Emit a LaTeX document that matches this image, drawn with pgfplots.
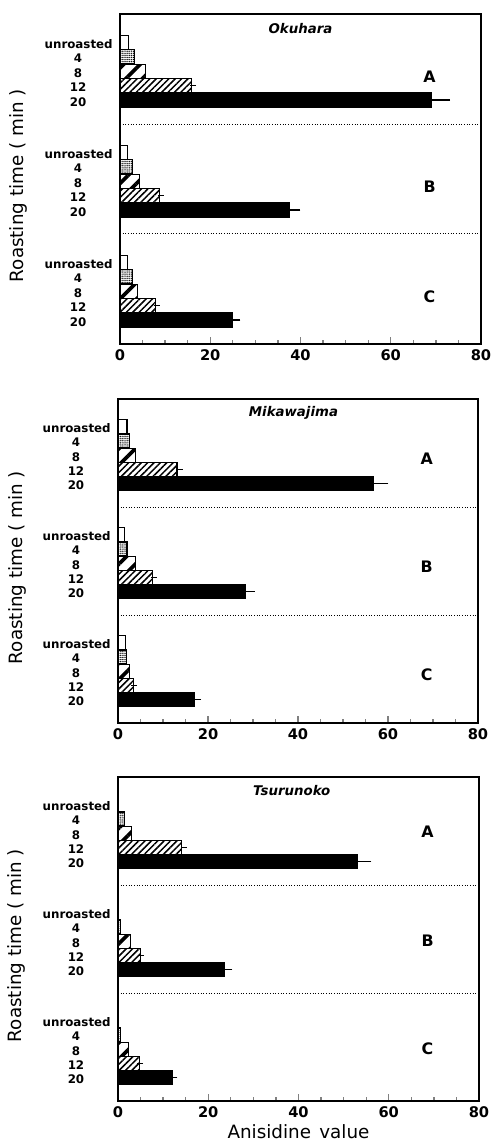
\documentclass[border=0pt]{standalone}
\usepackage{fontspec}
\setmainfont{DejaVu Sans}
\usepackage{pgfplots}
\pgfplotsset{compat=1.18}
\usetikzlibrary{patterns,patterns.meta}

% y positions (axis units, top-down): 3 groups x 5 bars
\pgfplotsset{
  panel/.style={
    anchor=north west, scale only axis, width=216.6pt,
    xmin=0, xmax=80, ymin=0, ymax=326, y dir=reverse,
    xtick={0,20,40,60,80}, minor x tick num=3, xtick pos=bottom,
    tick align=inside, major tick length=4pt, minor tick length=2.4pt,
    ytick={28,42.25,56.5,70.75,85,136.67,150.92,165.17,179.42,193.67,245.33,259.58,273.83,288.08,302.33},
    yticklabels={unroasted,4,8,12,20,unroasted,4,8,12,20,unroasted,4,8,12,20},
    ytick style={draw=none},
    yticklabel style={font=\bfseries\fontsize{7.1}{8}\selectfont, text width=40pt,
      align=center, anchor=east, inner sep=0pt, xshift=-5pt, yshift=-1pt},
    xticklabel style={font=\bfseries\fontsize{8.8}{10}\selectfont},
    /pgf/number format/assume math mode=true,
    ylabel={Roasting time ( min )},
    ylabel style={at={(axis description cs:-0.28,0.48)}, anchor=center,
      font=\fontsize{11}{13}\selectfont},
    axis line style={line width=1.1pt},
    tick style={line width=0.8pt},
    clip=false,
  },
  bar0/.style={xbar, bar shift=0pt, bar width=14, draw=black, line width=0.7pt, fill=white},
  bar4/.style={xbar, bar shift=0pt, bar width=14, draw=black, line width=0.7pt,
    pattern={Dots[distance=1.25pt, radius=0.45pt]}},
  bar8/.style={xbar, bar shift=0pt, bar width=14, draw=black, line width=0.7pt,
    pattern={Lines[angle=45, distance=7pt, line width=2.2pt]}},
  bar12/.style={xbar, bar shift=0pt, bar width=14, draw=black, line width=0.7pt,
    pattern={Lines[angle=45, distance=2.7pt, line width=0.9pt]}},
  bar20/.style={xbar, bar shift=0pt, bar width=14, draw=black, line width=0.7pt, fill=black},
  errs/.style={error bars/.cd, x dir=plus, x explicit,
    error bar style={line width=0.8pt}, error mark options={line width=0.8pt, mark size=1.8pt}},
}
\tikzset{
  sep/.style={densely dotted, line width=0.6pt},
  grp/.style={font=\bfseries\fontsize{9.5}{11}\selectfont},
  ttl/.style={font=\bfseries\itshape\fontsize{8}{9}\selectfont},
}

\begin{document}
\begin{tikzpicture}

% Okuhara
\begin{axis}[panel, at={(0pt,0pt)}, height=198pt]
\addplot[bar0] coordinates {(1.8,28) (1.7,136.67) (1.7,245.33)};
\addplot[bar4] coordinates {(3.3,42.25) (2.8,150.92) (2.8,259.58)};
\addplot[bar8] coordinates {(5.7,56.5) (4.4,165.17) (3.9,273.83)};
\addplot[bar12, errs] coordinates {(15.8,70.75) +- (0.4,0) (8.7,179.42) +- (0.3,0) (7.9,288.08) +- (0.2,0)};
\addplot[bar20, errs] coordinates {(69.0,85) +- (3.5,0) (37.5,193.67) +- (1.8,0) (25.0,302.33) +- (1.0,0)};
\draw[sep] (axis cs:0,108.67) -- (axis cs:80,108.67);
\draw[sep] (axis cs:0,217.33) -- (axis cs:80,217.33);
\node[ttl] at (axis cs:40,14) {Okuhara};
\node[grp] at (axis cs:68.6,62) {A};
\node[grp] at (axis cs:68.6,171) {B};
\node[grp] at (axis cs:68.6,279) {C};
\end{axis}

% Mikawajima
\begin{axis}[panel, at={(-1.2pt,-231pt)}, height=194.4pt, width=216pt]
\addplot[bar0] coordinates {(2.0,28) (1.5,136.67) (1.6,245.33)};
\addplot[bar4] coordinates {(2.6,42.25) (2.0,150.92) (1.8,259.58)};
\addplot[bar8] coordinates {(3.8,56.5) (3.8,165.17) (2.5,273.83)};
\addplot[bar12, errs] coordinates {(13.1,70.75) +- (0.6,0) (7.6,179.42) +- (0.3,0) (3.4,288.08) +- (0.2,0)};
\addplot[bar20, errs] coordinates {(56.7,85) +- (2.7,0) (28.4,193.67) +- (1.3,0) (16.9,302.33) +- (0.9,0)};
\draw[sep] (axis cs:0,108.67) -- (axis cs:80,108.67);
\draw[sep] (axis cs:0,217.33) -- (axis cs:80,217.33);
\node[ttl] at (axis cs:39,14) {Mikawajima};
\node[grp] at (axis cs:68.6,60) {A};
\node[grp] at (axis cs:68.6,169) {B};
\node[grp] at (axis cs:68.6,277) {C};
\end{axis}

% Tsurunoko
\begin{axis}[panel, at={(-1.2pt,-457.8pt)}, height=194.4pt,
  xlabel={Anisidine\hspace{0.45em}value},
  xlabel style={font=\fontsize{11}{13}\selectfont, yshift=3pt}]
\addplot[bar4] coordinates {(1.5,42.25) (0.6,150.92) (0.5,259.58)};
\addplot[bar8] coordinates {(2.9,56.5) (2.8,165.17) (2.4,273.83)};
\addplot[bar12, errs] coordinates {(14.1,70.75) +- (0.5,0) (4.9,179.42) +- (0.2,0) (4.7,288.08) +- (0.2,0)};
\addplot[bar20, errs] coordinates {(53.1,85) +- (2.4,0) (23.6,193.67) +- (1.1,0) (12.0,302.33) +- (0.5,0)};
\draw[sep] (axis cs:0,108.67) -- (axis cs:80,108.67);
\draw[sep] (axis cs:0,217.33) -- (axis cs:80,217.33);
\node[ttl] at (axis cs:38.5,14) {Tsurunoko};
\node[grp] at (axis cs:68.6,55) {A};
\node[grp] at (axis cs:68.6,165) {B};
\node[grp] at (axis cs:68.6,273) {C};
\end{axis}

\pgfresetboundingbox
\path[use as bounding box] (-72pt,8.4pt) rectangle (222.6pt,-678.6pt);
\end{tikzpicture}
\end{document}
